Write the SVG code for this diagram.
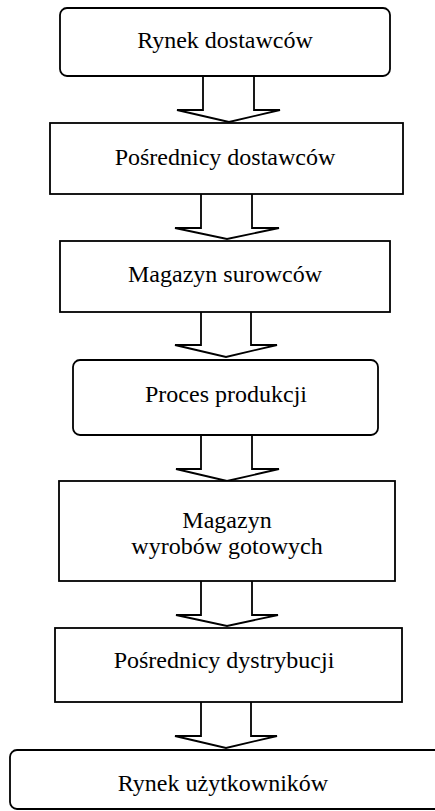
<svg xmlns="http://www.w3.org/2000/svg" width="435" height="811" viewBox="0 0 435 811">
<style>
.box{fill:#fff;stroke:#000;stroke-width:1.8}
.arr{fill:#fff;stroke:#000;stroke-width:1.8;stroke-linejoin:miter}
.t{font-family:'Liberation Serif','Times New Roman',serif;font-size:24px;fill:#000;text-anchor:middle}
</style>
<rect width="435" height="811" fill="#fff"/>
<g id="connectors">
<path class="arr" d="M203,76 V110 H177 L229,122 L280,110 H254 V76"/>
<path class="arr" d="M201,194 V228 H175 L227,239 L279,228 H252 V194"/>
<path class="arr" d="M201,312 V345 H175 L226,357 L277,345 H251 V312"/>
<path class="arr" d="M201,435 V469 H176 L227,481 L279,469 H252 V435"/>
<path class="arr" d="M201,581 V615 H176 L227,626 L278,615 H252 V581"/>
<path class="arr" d="M201,702 V736 H175 L226,748 L277,736 H251 V702"/>
</g>
<g id="n1"><rect class="box" x="60" y="8" width="330" height="68" rx="7"/><text class="t" x="225" y="48">Rynek dostawców</text></g>
<g id="n2"><rect class="box" x="50" y="123" width="353" height="71"/><text class="t" x="225" y="165">Pośrednicy dostawców</text></g>
<g id="n3"><rect class="box" x="60" y="241" width="330" height="71"/><text class="t" x="225" y="282">Magazyn surowców</text></g>
<g id="n4"><rect class="box" x="73" y="360" width="305" height="75" rx="7"/><text class="t" x="226" y="402">Proces produkcji</text></g>
<g id="n5"><rect class="box" x="59" y="481" width="336" height="100"/><text class="t" x="227" y="528">Magazyn</text><text class="t" x="227" y="554">wyrobów gotowych</text></g>
<g id="n6"><rect class="box" x="55" y="628" width="347" height="74"/><text class="t" x="224" y="668">Pośrednicy dystrybucji</text></g>
<g id="n7"><rect class="box" x="10" y="750" width="440" height="59" rx="7"/><text class="t" x="223" y="791">Rynek użytkowników</text></g>
</svg>
